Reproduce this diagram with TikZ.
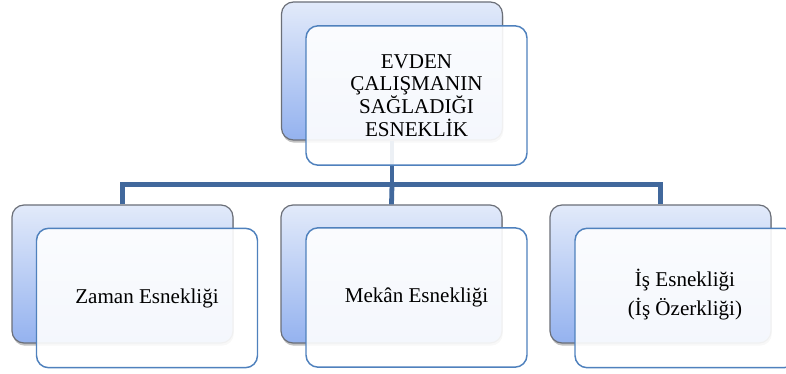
\documentclass[tikz,border=0pt]{standalone}
\usepackage{fontspec}
\setmainfont{Liberation Serif}
\usetikzlibrary{shadows}
\definecolor{backtop}{HTML}{E2EAFA}
\definecolor{backbot}{HTML}{94B2EF}
\definecolor{backedge}{HTML}{6B6F78}
\definecolor{frontedge}{HTML}{4F81BD}
\definecolor{connc}{HTML}{41689C}
\begin{document}
\begin{tikzpicture}[x=0.75pt,y=-0.75pt,
  backbox/.style={draw=backedge, line width=0.9pt, rounded corners=9pt,
    top color=backtop, bottom color=backbot,
    minimum width=165.75pt, minimum height=103.5pt, inner sep=0pt,
    drop shadow={shadow xshift=0.6pt, shadow yshift=-2pt, opacity=0.35, fill=black!70}},
  frontbox/.style={draw=frontedge, line width=1.1pt, rounded corners=9pt,
    fill=white, fill opacity=0.9, text opacity=1,
    minimum width=165.75pt, minimum height=104.5pt, inner sep=0pt,
    align=center, font=\fontsize{15.8}{17}\selectfont},
  conn/.style={draw=connc, line width=3.6pt}
]
\useasboundingbox (0,0) rectangle (786,374);
% back boxes
\node[backbox] (tb) at (392,71) {};
\node[backbox] (lb) at (122.5,274) {};
\node[backbox] (mb) at (391.5,274) {};
\node[backbox] (rb) at (660.5,274) {};
% connectors
\coordinate (bar) at (392,184.5);
\draw[conn] (tb.south) -- (bar);
\draw[conn] (lb.north) |- (bar);
\draw[conn] (rb.north) |- (bar);
\draw[conn] (mb.north) -- (bar);
% front boxes
\node[frontbox] (tf) at (416.5,95.5) {EVDEN\\ÇALIŞMANIN\\SAĞLADIĞI\\ESNEKLİK};
\node[frontbox] (lf) at (147,298) {Zaman Esnekliği};
\node[frontbox] (mf) at (416.5,297.5) {Mekân Esnekliği};
\node[frontbox, text depth=0pt] (rf) at (685.5,298) {};
\node[align=center, font=\fontsize{15.8}{22}\selectfont, inner sep=0pt] (rt) at (685,294.5) {İş Esnekliği\\(İş Özerkliği)};
\end{tikzpicture}
\end{document}
